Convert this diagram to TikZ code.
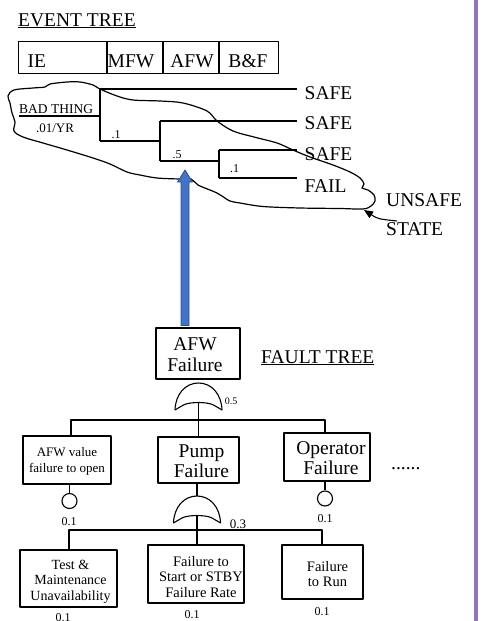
\documentclass[tikz,border=0pt]{standalone}
\usepackage{fontspec}
\setmainfont{Liberation Serif}
\usetikzlibrary{arrows.meta,calc}
\definecolor{arrowblue}{HTML}{4472C4}
\definecolor{arrowedge}{HTML}{2F528F}
\definecolor{sidebar}{RGB}{148,118,180}
\newcommand\setfs[2]{\fontsize{#1}{#2}\selectfont}

\begin{document}
\begin{tikzpicture}[x=1pt, y=-1pt, line join=round,
  treeline/.style={line width=1.2},
  frame/.style={draw, line width=1.1, inner sep=0},
  bigtext/.style={font=\setfs{19.5}{21}},
  midtext/.style={font=\setfs{14.5}{15.5}},
  smalltext/.style={font=\setfs{13}{16}},
  probtext/.style={font=\setfs{12}{14}, inner sep=0},
  inbox/.style={align=center, inner sep=0},
  endlabel/.style={bigtext, anchor=west, inner xsep=7.5, inner ysep=0},
  orgate/.pic={
    \draw[line width=1.1] (-23.5,27) .. controls (-23,11) and (-13,0) .. (0,0)
      .. controls (13,0) and (23,11) .. (23.5,27)
      .. controls (12,20) .. (0,19.5) .. controls (-12,20) .. (-23.5,27) -- cycle;
    \coordinate (-top) at (0,0);
    \coordinate (-out) at (0,19.5);
  }]

\useasboundingbox (0,0) rectangle (480,621);
\fill[white] (0,0) rectangle (480,621);
\fill[sidebar] (474,0) rectangle (478,621);

% ---------------- event tree ----------------
\node[bigtext, anchor=base west, inner sep=0] (ettitle) at (18,26) {\underline{EVENT TREE}};

\node[frame, minimum width=88, minimum height=32, anchor=north west] (cIE) at (18,41) {};
\node[frame, minimum width=55, minimum height=32, anchor=north west] (cMFW) at (cIE.north east) {};
\node[frame, minimum width=55, minimum height=32, anchor=north west] (cAFW) at (cMFW.north east) {};
\node[frame, minimum width=59, minimum height=32, anchor=north west] (cBF) at (cAFW.north east) {};
\node[bigtext, anchor=base west, inner sep=0] (tIE) at (27.5,67) {IE};
\node[bigtext, anchor=base, inner sep=0] (tMFW) at (131,67) {MFW};
\node[bigtext, anchor=base, inner sep=0] (tAFW) at (192,67) {AFW};
\node[bigtext, anchor=base, inner sep=0] (tBF) at (248,67) {B\&F};

\node[font=\setfs{13.5}{15}, anchor=base west, inner sep=0] (bad) at (19,113) {BAD THING};
\node[smalltext, inner sep=0] (freq) at (55,128) {.01/YR};

\coordinate (ie0) at (19,116);
\coordinate (j1t) at (100,89);
\coordinate (j1b) at (100,141);
\coordinate (j2t) at (160,121);
\coordinate (j2b) at (160,161);
\coordinate (j3t) at (219,150);
\coordinate (j3b) at (219,178);

\node[endlabel] (safe1) at (297,93) {SAFE};
\node[endlabel] (safe2) at (297,123) {SAFE};
\node[endlabel] (safe3) at (297,154.5) {SAFE};
\node[endlabel] (fail) at (297,186) {FAIL};

\draw[treeline] (ie0) -- (j1b |- ie0);
\draw[treeline] (j1t) -- (j1b);
\draw[treeline] (j1t) -- (j1t -| safe1.west);
\draw[treeline] (j1b) -- (j1b -| j2t);
\draw[treeline] (j2t) -- (j2b);
\draw[treeline] (j2t) -- (j2t -| safe2.west);
\draw[treeline] (j2b) -- (j2b -| j3t);
\draw[treeline] (j3t) -- (j3b);
\draw[treeline] (j3t) -- (j3t -| safe3.west);
\draw[treeline] (j3b) -- (j3b -| fail.west);

\node[probtext] (p1) at (116,135) {.1};
\node[probtext] (p2) at (177,154.5) {.5};
\node[probtext] (p3) at (234.5,169) {.1};

% freehand outline round the sequences that lead to the unsafe state
\draw[line width=1.2] plot[smooth cycle, tension=0.55] coordinates {
  (8,96) (14,90) (33,88) (45,87) (50,84) (67,82) (80,82) (93,85) (100,89)
  (117,96) (133,100) (160,101) (183,103) (207,111) (217,121) (233,131)
  (254,137) (277,143) (293,150) (310,157) (333,165) (350,172) (360,178)
  (364,184) (362,188) (368,190) (374,195) (375,201) (371,206) (363,209)
  (340,208.5) (300,208) (263,206.5) (240,203) (230,201) (222,196)
  (217,193) (210,190) (198,185) (191,179) (180,179) (157,178) (140,175)
  (127,172) (110,164) (93,158) (67,150) (43,143) (23,137) (14,131)
  (15,122) (12,113) (10,103)};

\node[bigtext, anchor=west, inner sep=0, align=left, font=\setfs{19.5}{29}] (unsafe) at (386,214.5) {UNSAFE\\STATE};
\coordinate (ptr) at (397,221);
\coordinate (outline) at (364,210);
\draw[line width=1.1, -{Triangle[length=9, width=7.5]}] (ptr) .. controls (378,219) .. (outline);

% ---------------- fault tree ----------------
\node[frame, minimum width=84, minimum height=51,
  label={[bigtext, inbox, xshift=-3, yshift=-1]center:{AFW\\Failure}}] (afw) at (198,353.5) {};
\node[bigtext, anchor=base west, inner sep=0] (fttitle) at (261,363) {\underline{FAULT TREE}};

% link from the fault tree top event up to the event tree branch
\coordinate (linkbot) at (185,325.5);
\coordinate (linktip) at (185,170);
\filldraw[fill=arrowblue, draw=arrowedge, line width=0.8]
  ($(linkbot)+(-4,0)$) -- ($(linktip)+(-4,12)$) -- ($(linktip)+(-7.5,12)$) -- (linktip)
  -- ($(linktip)+(7.5,12)$) -- ($(linktip)+(4,12)$) -- ($(linkbot)+(4,0)$) -- cycle;

\pic (g1) at (198.5,383) {orgate};
\node[font=\setfs{10}{12}, inner sep=0] (p05) at (231,401) {0.5};

\node[frame, minimum width=88, minimum height=48,
  label={[smalltext, inbox, yshift=-1]center:{AFW value\\failure to open}}] (valve) at (67,460) {};
\node[frame, minimum width=81, minimum height=46,
  label={[bigtext, inbox, xshift=3, yshift=-1, font=\setfs{19.5}{20}]center:{Pump\\Failure}}] (pump) at (198.5,460) {};
\node[frame, minimum width=86, minimum height=48,
  label={[bigtext, inbox, xshift=4, yshift=-1, font=\setfs{19.5}{20}]center:{Operator\\Failure}}] (oper) at (327,457) {};
\node[bigtext, anchor=base west, inner sep=0] (more) at (391,469) {......};

\coordinate (bar1) at (198.5,420);
\draw[line width=1.1] (g1-out) -- (pump.north);
\draw[line width=1.1] ([xshift=4]valve.north) |- (bar1) -| ([xshift=-2]oper.north);

\node[circle, draw, line width=1.1, minimum size=15, inner sep=0] (c1) at (69.5,501) {};
\node[circle, draw, line width=1.1, minimum size=15, inner sep=0] (c2) at (325,498.5) {};
\draw[line width=1.1] (c1.north |- valve.south) -- (c1.north);
\draw[line width=1.6] (c2.north |- oper.south) -- (c2.north);
\node[probtext] (pv) at (69,522) {0.1};
\node[probtext] (po) at (325,519) {0.1};

\pic (g2) at (197,496) {orgate};
\draw[line width=1.1] ([xshift=-1.5]pump.south) -- (g2-top);
\node[font=\setfs{13}{15}, inner sep=0] (p03) at (238,524) {0.3};

\node[frame, minimum width=97, minimum height=57,
  label={[font=\setfs{14}{15.5}, inbox, xshift=2, yshift=-3]center:{Test \&\\Maintenance\\Unavailability}}] (test) at (68.5,578.5) {};
\node[frame, minimum width=96, minimum height=58,
  label={[midtext, inbox, xshift=5, yshift=-3]center:{Failure to\\Start or STBY\\Failure Rate}}] (start) at (196,574) {};
\node[frame, minimum width=81, minimum height=54,
  label={[midtext, inbox, xshift=5, yshift=-2]center:{Failure\\to Run}}] (run) at (322.5,572) {};

\coordinate (bar2) at (198,530);
\draw[line width=1.1] (g2-out) -- (g2-out |- start.north);
\draw[line width=1.1] ([xshift=0.5]test.north) |- (bar2) -| ([xshift=-0.5]run.north);

\node[probtext] (pt) at (63,618) {0.1};
\node[probtext] (ps) at (192,615) {0.1};
\node[probtext] (pr) at (322,612) {0.1};
\end{tikzpicture}
\end{document}
